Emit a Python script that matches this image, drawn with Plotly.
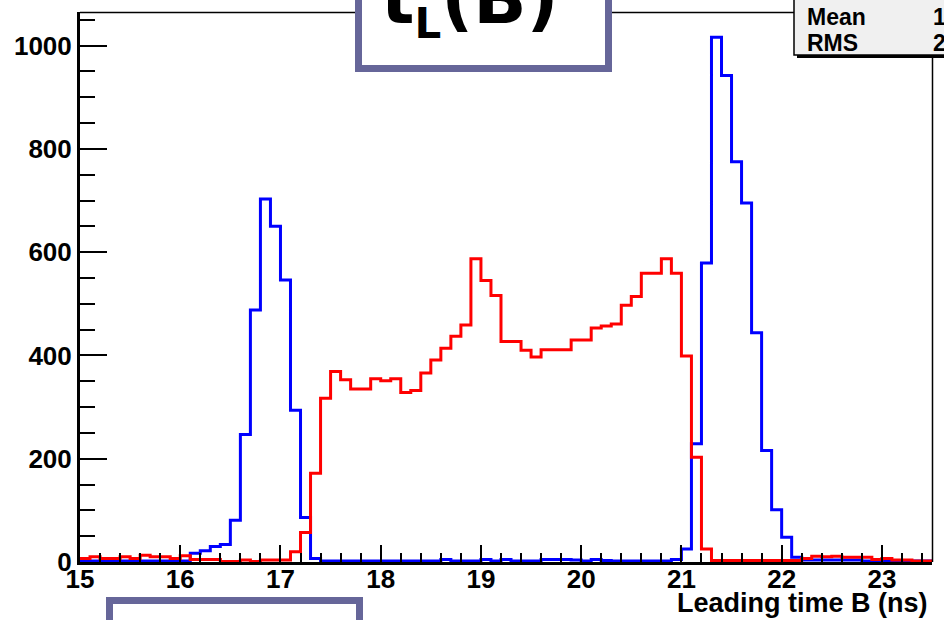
import numpy as np
import plotly.graph_objects as go

# Histogram binning (ns)
bin_start = 15.0
bin_width = 0.1

# Counts per 0.1 ns bin, 15.0 .. 23.5 ns (85 bins)
blue_counts = [
    2, 2, 2, 2, 2, 2, 2, 2, 2, 2,            # 15.0 - 15.9
    2, 17, 22, 30, 34, 81, 247, 488, 703, 650,  # 16.0 - 16.9
    546, 294, 86, 7, 2, 2, 2, 2, 2, 2,       # 17.0 - 17.9
    2, 2, 2, 2, 2, 2, 5, 2, 2, 2,            # 18.0 - 18.9
    5, 2, 5, 2, 2, 2, 5, 5, 5, 4,            # 19.0 - 19.9
    2, 5, 3, 2, 2, 2, 2, 2, 2, 5,            # 20.0 - 20.9
    25, 229, 579, 1016, 942, 775, 695, 444, 216, 101,  # 21.0 - 21.9
    48, 9, 4, 4, 4, 4, 4, 4, 2, 2,           # 22.0 - 22.9
    2, 2, 2, 2, 2,                           # 23.0 - 23.4
]
red_counts = [
    7, 10, 7, 7, 10, 7, 13, 10, 10, 7,       # 15.0 - 15.9
    12, 5, 5, 5, 1, 1, 4, 1, 4, 4,           # 16.0 - 16.9
    4, 20, 57, 172, 317, 369, 353, 335, 335, 355,  # 17.0 - 17.9
    351, 355, 328, 332, 366, 391, 414, 437, 459, 587,  # 18.0 - 18.9
    545, 516, 427, 427, 410, 397, 411, 411, 411, 430,  # 19.0 - 19.9
    430, 453, 457, 461, 497, 514, 559, 559, 587, 559,  # 20.0 - 20.9
    399, 203, 25, 3, 3, 3, 3, 3, 3, 3,       # 21.0 - 21.9
    3, 3, 7, 11, 10, 11, 9, 9, 9, 5,         # 22.0 - 22.9
    7, 4, 4, 2, 2,                           # 23.0 - 23.4
]

x_ticks = [15, 16, 17, 18, 19, 20, 21, 22, 23]
y_ticks = [0, 200, 400, 600, 800, 1000]
x_title = "Leading time B (ns)"
hist_title = "t<sub><span style='font-size:42px'>L</span></sub>(B)"

# Figure geometry in pixels
W, H = 944, 620
ML, MR, MT, MB = 80, 12, 12, 58


def px(x):
    return (x - ML) / (W - ML - MR)


def py(y):
    return (H - MB - y) / (H - MT - MB)


def step_xy(counts):
    n = len(counts)
    edges = bin_start + bin_width * np.arange(n + 1)
    ys = list(counts) + [counts[-1]]
    return edges, ys


fig = go.Figure()
for counts, color in ((blue_counts, "#0000ff"), (red_counts, "#ff0000")):
    ex, ey = step_xy(counts)
    fig.add_trace(go.Scatter(x=ex, y=ey, mode="lines", line_shape="hv",
                             line=dict(color=color, width=3), hoverinfo="skip",
                             showlegend=False))

# Statistics of the blue histogram for the stats box
centers = bin_start + bin_width * (np.arange(len(blue_counts)) + 0.5)
w = np.array(blue_counts, dtype=float)
mean = float((centers * w).sum() / w.sum())
rms = float(np.sqrt(((centers - mean) ** 2 * w).sum() / w.sum()))

tickfont = dict(family="Liberation Sans", size=26, color="black", weight="bold")

fig.update_xaxes(range=[15, 23.5], tickvals=x_ticks, ticks="inside", ticklen=17,
                 tickwidth=2, tickcolor="black", showline=True, linecolor="black",
                 linewidth=2.5, showgrid=False, zeroline=False, tickfont=tickfont,
                 ticklabelstandoff=-8,
                 minor=dict(dtick=0.2, tick0=15, ticks="inside", ticklen=9,
                            tickwidth=2, tickcolor="black", showgrid=False))
fig.update_yaxes(range=[0, 1065], tickvals=y_ticks, ticks="inside", ticklen=27,
                 tickwidth=2, tickcolor="black", showline=True, linecolor="black",
                 linewidth=3, showgrid=False, zeroline=False, tickfont=tickfont,
                 minor=dict(dtick=50, tick0=0, ticks="inside", ticklen=15,
                            tickwidth=2, tickcolor="black", showgrid=False))

frame = "#666699"
shapes = [
    # upper and right frame lines
    dict(type="line", xref="paper", yref="paper", x0=px(80), x1=px(794),
         y0=py(12.5), y1=py(12.5), line=dict(color="black", width=1.5)),
    dict(type="line", xref="paper", yref="paper", x0=px(932.5), x1=px(932.5),
         y0=py(55), y1=py(562), line=dict(color="black", width=1.5)),
    # stats box shadow and box
    dict(type="rect", xref="paper", yref="paper", x0=px(797), x1=px(960),
         y0=py(58), y1=py(-10), line=dict(width=0), fillcolor="black"),
    dict(type="rect", xref="paper", yref="paper", x0=px(794), x1=px(960),
         y0=py(55), y1=py(-10), line=dict(color="black", width=1.5),
         fillcolor="#f0f0f0"),
    # title box
    dict(type="rect", xref="paper", yref="paper", x0=px(358.5), x1=px(608.5),
         y0=py(68.5), y1=py(-20), line=dict(color=frame, width=7),
         fillcolor="white"),
    # lower box
    dict(type="rect", xref="paper", yref="paper", x0=px(109.5), x1=px(359.5),
         y0=py(640), y1=py(600.5), line=dict(color=frame, width=7),
         fillcolor="white"),
]

stat_font = dict(family="Liberation Sans", size=23, color="black", weight="bold")
annotations = [
    dict(text=f"<b>{hist_title}</b>", x=px(470), y=py(3), xref="paper", yref="paper",
         xanchor="center", yanchor="middle", showarrow=False,
         font=dict(family="DejaVu Sans", size=70, color="black")),
    dict(text="Mean", x=px(805), y=py(17), xref="paper", yref="paper",
         xanchor="left", yanchor="middle", showarrow=False, font=stat_font),
    dict(text="RMS", x=px(805), y=py(43), xref="paper", yref="paper",
         xanchor="left", yanchor="middle", showarrow=False, font=stat_font),
    dict(text=f"{mean:.2f}", x=px(931), y=py(17), xref="paper", yref="paper",
         xanchor="left", yanchor="middle", showarrow=False, font=stat_font),
    dict(text=f"{rms:.3f}", x=px(931), y=py(43), xref="paper", yref="paper",
         xanchor="left", yanchor="middle", showarrow=False, font=stat_font),
    dict(text=x_title, x=px(930), y=py(603), xref="paper", yref="paper",
         xanchor="right", yanchor="middle", showarrow=False,
         font=dict(family="Liberation Sans", size=27, color="black", weight="bold")),
]

fig.update_layout(width=W, height=H, margin=dict(l=ML, r=MR, t=MT, b=MB),
                  paper_bgcolor="white", plot_bgcolor="white",
                  shapes=shapes, annotations=annotations, showlegend=False)

fig.write_html("out.html")
